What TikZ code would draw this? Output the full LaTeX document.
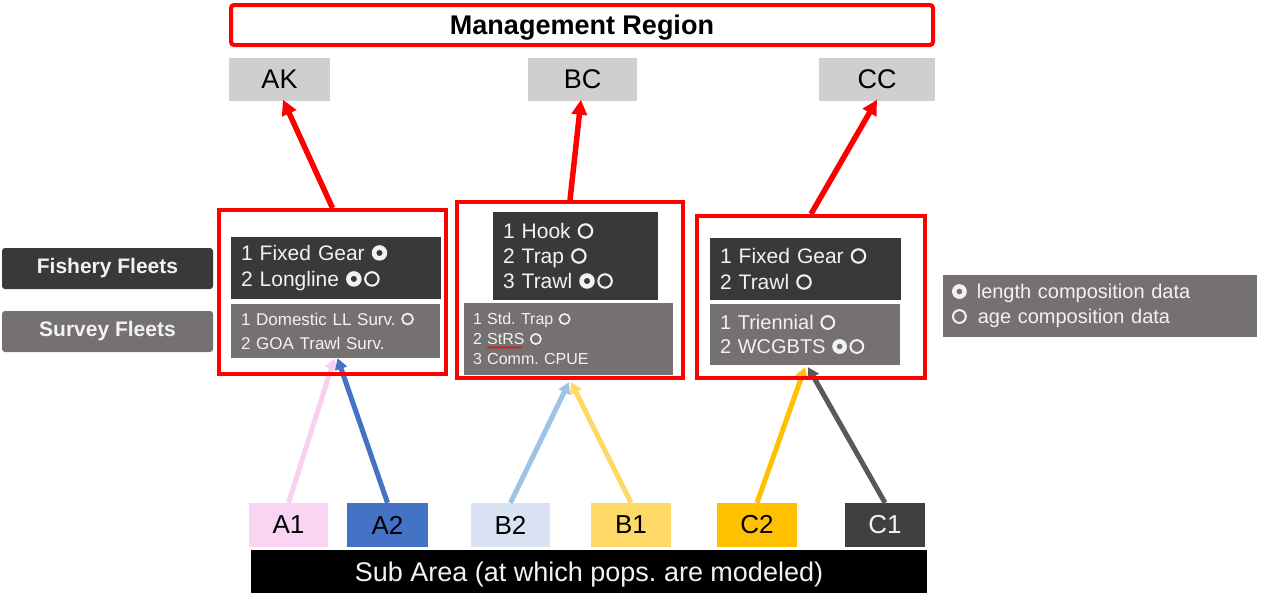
\documentclass[tikz,border=0pt]{standalone}
\usepackage{fontspec}
\setmainfont{Liberation Sans}
\usetikzlibrary{arrows.meta,decorations.pathmorphing}
\frenchspacing

\definecolor{fleetdark}{HTML}{3B3838}
\definecolor{survgray}{HTML}{767171}
\definecolor{regiongray}{HTML}{D0CECE}
\definecolor{textlight}{HTML}{F2F2F2}
\definecolor{mgmtred}{HTML}{FF0000}
\definecolor{subpink}{HTML}{F9D5F3}
\definecolor{linepink}{HTML}{F8D0F0}
\definecolor{subblue}{HTML}{4472C4}
\definecolor{subpale}{HTML}{DAE3F3}
\definecolor{linepale}{HTML}{9DC3E6}
\definecolor{subyellow}{HTML}{FFD966}
\definecolor{suborange}{HTML}{FFC000}
\definecolor{subdark}{HTML}{404040}
\definecolor{linedark}{HTML}{595959}

% data markers: length composition (disc with a hole) and age composition (ring)
\newcommand\lenmark{\tikz[x=1cm,y=1cm,baseline=-0.36em]\fill[even odd rule] (0,0) circle (0.37em) (0,0) circle (0.15em);}
\newcommand\agemark{\tikz[x=1cm,y=1cm,baseline=-0.36em]\draw[line width=0.1em] (0,0) circle (0.32em);}

\tikzset{
  fishbox/.style={fill=fleetdark, text=textlight, align=left, inner xsep=10pt, inner ysep=0pt, anchor=center},
  survbox/.style={fill=survgray, text=textlight, align=left, inner xsep=10pt, inner ysep=0pt, anchor=center},
  labelbox/.style={rounded corners=3pt, text=textlight, font=\fontsize{21}{24}\selectfont\bfseries, minimum width=211pt, minimum height=41pt, inner sep=0pt},
  regbox/.style={fill=regiongray, text=black, font=\fontsize{27}{30}\selectfont, minimum height=43pt, inner sep=0pt},
  subbox/.style={font=\fontsize{26}{30}\selectfont, minimum width=80pt, minimum height=44pt, inner sep=0pt},
  redframe/.style={draw=mgmtred, line width=4pt},
  uparrow/.style={draw=mgmtred, line width=5.5pt, -{Triangle[width=15pt,length=15pt]}},
  feed/.style={line width=5pt, -{Triangle[width=12pt,length=11pt]}},
}

\begin{document}
\begin{tikzpicture}[x=1pt,y=-1pt]
\useasboundingbox[fill=white] (0,0) rectangle (1263,597);

% management region header and regions
\node[redframe, rounded corners=3pt, minimum width=702pt, minimum height=40pt, inner sep=0pt, text depth=0pt,
      font=\fontsize{27}{30}\selectfont\bfseries] (mgmt) at (582,25) {Management Region};
\node[regbox, minimum width=101pt] (AK) at (279.5,79) {AK};
\node[regbox, minimum width=109pt] (BC) at (582.5,79) {BC};
\node[regbox, minimum width=116pt] (CC) at (877,79) {CC};

% row labels
\node[labelbox, fill=fleetdark] (fishlab) at (107.5,268.5) {Fishery Fleets};
\node[labelbox, fill=survgray] (survlab) at (107.5,331.5) {Survey Fleets};

% fleets of region A
\node[fishbox, text width=190pt, minimum height=62pt, font=\fontsize{21}{26}\selectfont] (aFish) at (336,268)
  {1 Fixed Gear \lenmark\\2 Longline \lenmark\hspace{0.12em}\agemark};
\node[survbox, text width=189pt, minimum height=54pt, font=\fontsize{17}{24}\selectfont] (aSurv) at (335.5,331)
  {1 Domestic LL Surv. \agemark\\2 GOA Trawl Surv.};

% fleets of region B
\node[fishbox, text width=145pt, minimum height=88pt, font=\fontsize{21}{25}\selectfont] (bFish) at (575.5,256)
  {1 Hook \agemark\\2 Trap \agemark\\3 Trawl \lenmark\hspace{0.12em}\agemark};
\node[survbox, text width=191pt, inner xsep=9pt, minimum height=72pt, font=\fontsize{16}{20}\selectfont] (bSurv) at (568.5,339)
  {1 Std. Trap \agemark\\2 StRS \agemark\\3 Comm. CPUE};
\draw[mgmtred, line width=0.7pt, decorate, decoration={snake, amplitude=0.9pt, segment length=3pt}] (487,347.5) -- (522,347.5);

% fleets of region C
\node[fishbox, text width=171pt, minimum height=62pt, font=\fontsize{21}{26}\selectfont] (cFish) at (805.5,269)
  {1 Fixed Gear \agemark\\2 Trawl \agemark};
\node[survbox, text width=170pt, minimum height=61pt, font=\fontsize{20}{24}\selectfont] (cSurv) at (805,334.5)
  {1 Triennial \agemark\\2 WCGBTS \lenmark\hspace{0.12em}\agemark};

% legend
\node[survbox, text width=296pt, inner xsep=9pt, minimum height=62pt, font=\fontsize{20}{25}\selectfont] (legend) at (1100,306)
  {\lenmark\hspace{0.5em}length composition data\\\agemark\hspace{0.55em}age composition data};

% sub areas
\node[subbox, fill=subpink, minimum width=79pt] (A1) at (288.5,525) {A1};
\node[subbox, fill=subblue, minimum width=81pt] (A2) at (387.5,525) {A2};
\node[subbox, fill=subpale, minimum width=79pt] (B2) at (510.5,525) {B2};
\node[subbox, fill=subyellow] (B1) at (631,525) {B1};
\node[subbox, fill=suborange] (C2) at (757,525) {C2};
\node[subbox, fill=subdark, text=textlight] (C1) at (885,525) {C1};
\node[fill=black, text=textlight, minimum width=676pt, minimum height=43pt, inner sep=0pt, text depth=0pt,
      font=\fontsize{27}{30}\selectfont] (subarea) at (589,571.5) {Sub Area (at which pops. are modeled)};

% sub areas feeding the fleets
\draw[feed, linepink] (A1.north) -- ([xshift=-1pt]aSurv.south);
\draw[feed, subblue] (A2.north) -- ([xshift=2pt]aSurv.south);
\draw[feed, linepale] (B2.north) -- ([xshift=0.5pt,yshift=-7pt]bSurv.south);
\draw[feed, subyellow] (B1.north) -- ([xshift=2.5pt,yshift=-7pt]bSurv.south);
\draw[feed, suborange] (C2.north) -- ([xshift=0pt,yshift=-2pt]cSurv.south);
\draw[feed, linedark] (C1.north) -- ([xshift=3pt,yshift=-2pt]cSurv.south);

% region frames around the fleets
\node[redframe, minimum width=227pt, minimum height=164pt, inner sep=0pt] (aRed) at (332.5,292) {};
\node[redframe, minimum width=226pt, minimum height=176pt, inner sep=0pt] (bRed) at (570,290) {};
\node[redframe, minimum width=228pt, minimum height=162pt, inner sep=0pt] (cRed) at (811,297) {};

% fleets mapped to management regions
\draw[uparrow] (aRed.north) -- ([xshift=3.5pt,yshift=1pt]AK.south);
\draw[uparrow] (bRed.north) -- ([xshift=-1.5pt,yshift=1pt]BC.south);
\draw[uparrow] (cRed.north) -- ([yshift=1pt]CC.south);
\end{tikzpicture}
\end{document}
